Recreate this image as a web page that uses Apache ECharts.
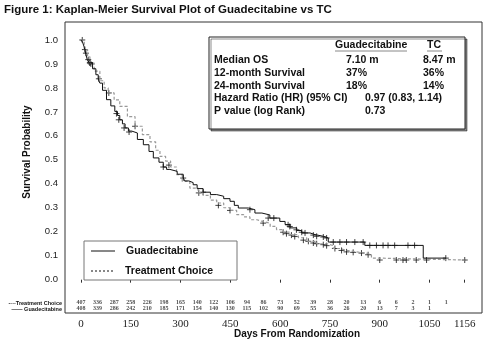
<!DOCTYPE html>
<html>
<head>
<meta charset="utf-8">
<script src="https://cdn.jsdelivr.net/npm/echarts@6/dist/echarts.min.js"></script>
<style>
  html, body { margin: 0; padding: 0; background: #fff; }
  #chart { width: 491px; height: 354px; }
</style>
</head>
<body>
<div id="chart"></div>
<script>
// KM curves: [day, survival probability]
const guadCurve = [
  [0, 1.0], [5, 0.99], [10, 0.97], [15, 0.94], [19, 0.918], [25, 0.905], [35, 0.88], [45, 0.855],
  [52, 0.837], [57, 0.82], [65, 0.79], [77, 0.751], [90, 0.725], [102, 0.702], [110, 0.685],
  [117, 0.667], [125, 0.65], [133, 0.633], [143, 0.62], [153, 0.612], [170, 0.585], [188, 0.563],
  [205, 0.535], [218, 0.508], [235, 0.49], [248, 0.47], [258, 0.46], [268, 0.452], [290, 0.44],
  [308, 0.424], [313, 0.412], [325, 0.405], [338, 0.396], [350, 0.38], [368, 0.365], [390, 0.355],
  [409, 0.348], [430, 0.338], [449, 0.327], [462, 0.31], [474, 0.299], [504, 0.292], [524, 0.278],
  [545, 0.27], [569, 0.257], [599, 0.243], [615, 0.23], [630, 0.216], [650, 0.205], [665, 0.195],
  [690, 0.188], [705, 0.181], [730, 0.174], [745, 0.157], [855, 0.143], [1031, 0.09], [1099, 0.09]
]
const tcCurve = [
  [0, 1.0], [10, 0.96], [20, 0.93], [27, 0.904], [40, 0.87], [57, 0.83], [70, 0.8], [82, 0.779],
  [100, 0.75], [117, 0.723], [140, 0.68], [163, 0.64], [185, 0.605], [208, 0.575], [225, 0.54],
  [238, 0.514], [255, 0.495], [270, 0.47], [288, 0.438], [305, 0.41], [328, 0.382], [353, 0.362],
  [368, 0.352], [390, 0.332], [409, 0.32], [430, 0.3], [449, 0.289], [469, 0.271], [490, 0.262],
  [509, 0.25], [530, 0.242], [549, 0.236], [570, 0.222], [589, 0.209], [610, 0.198], [630, 0.188],
  [655, 0.175], [680, 0.16], [710, 0.15], [740, 0.142], [760, 0.13], [780, 0.122], [800, 0.116],
  [830, 0.111], [860, 0.104], [875, 0.09], [901, 0.082], [1156, 0.082]
]
// censored observations (+)
const guadCensor = [
  [4, 1.0], [12, 0.96], [15, 0.945], [22, 0.918], [27, 0.905], [30, 0.9], [54, 0.838], [107, 0.693],
  [114, 0.667], [130, 0.633], [145, 0.616], [248, 0.47], [308, 0.424], [368, 0.365], [509, 0.292],
  [564, 0.257], [581, 0.257], [624, 0.229], [629, 0.222], [649, 0.208], [665, 0.198], [675, 0.195],
  [700, 0.186], [710, 0.181], [730, 0.178], [740, 0.174], [760, 0.157], [780, 0.157], [800, 0.157],
  [825, 0.157], [850, 0.157], [870, 0.143], [890, 0.143], [910, 0.143], [925, 0.143], [945, 0.143],
  [985, 0.143], [1005, 0.143], [1099, 0.09]
]
const tcCensor = [
  [27, 0.904], [84, 0.779], [163, 0.64], [265, 0.478], [355, 0.362], [414, 0.31], [449, 0.289],
  [549, 0.236], [609, 0.198], [619, 0.192], [634, 0.186], [644, 0.18], [670, 0.165], [685, 0.16],
  [700, 0.153], [710, 0.15], [730, 0.146], [740, 0.142], [765, 0.13], [785, 0.122], [800, 0.116],
  [820, 0.114], [845, 0.111], [865, 0.104], [900, 0.082], [950, 0.082], [970, 0.082], [980, 0.082],
  [1010, 0.082], [1041, 0.082], [1156, 0.082]
]
// numbers at risk
const riskDays = [0, 50, 100, 150, 200, 250, 300, 350, 400, 450, 500, 550, 600, 650, 700, 750, 800, 850, 900, 950, 1000, 1050, 1100]
const tcAtRisk = [407, 336, 287, 258, 226, 198, 165, 140, 122, 106, 94, 86, 73, 52, 39, 28, 20, 13, 6, 6, 2, 1, 1]
const guadAtRisk = [408, 339, 286, 242, 210, 185, 171, 154, 140, 130, 115, 102, 90, 69, 55, 36, 26, 20, 13, 7, 3, 1]
const xTicks = [0, 150, 300, 450, 600, 750, 900, 1050, 1156]
const yTicks = [0, 0.1, 0.2, 0.3, 0.4, 0.5, 0.6, 0.7, 0.8, 0.9, 1.0]

// summary table
const statRows = ['Median OS', '12-month Survival', '24-month Survival', 'Hazard Ratio (HR) (95% CI)', 'P value (log Rank)']
const guadStats = ['7.10 m', '37%', '18%', '0.97 (0.83, 1.14)', '0.73']
const tcStats = ['8.47 m', '36%', '14%', '', '']

const plus = 'path://M0,5L10,5M5,0L5,10'
const boldFont = '"Liberation Sans", Arial, sans-serif'

const chart = echarts.init(document.getElementById('chart'))

function txt(x, y, text, size, opts) {
  return {
    type: 'text',
    z: 100,
    style: Object.assign({
      x: x, y: y, text: text,
      font: 'bold ' + size + 'px ' + boldFont,
      fill: '#111',
      align: 'left',
      verticalAlign: 'middle'
    }, opts || {})
  }
}

const rowY = [60, 72.7, 85.7, 98.3, 111]
const yTitle = txt(0, 0, 'Survival Probability', 10, { align: 'center' })
yTitle.x = 27
yTitle.y = 152
yTitle.rotation = Math.PI / 2

const graphics = [
  txt(4, 10, 'Figure 1: Kaplan-Meier Survival Plot of Guadecitabine vs TC', 11.5),
  yTitle,
  txt(297, 334, 'Days From Randomization', 10, { align: 'center' }),
  // summary box
  {
    type: 'rect', z: 99,
    shape: { x: 209, y: 37, width: 256, height: 92 },
    style: { fill: '#fff', stroke: '#222', lineWidth: 1, shadowColor: 'rgba(0,0,0,0.45)', shadowOffsetX: 2, shadowOffsetY: 2 }
  },
  txt(335, 45.5, 'Guadecitabine', 10.5),
  txt(427, 45.5, 'TC', 10.5),
  { type: 'line', z: 100, shape: { x1: 335, y1: 51, x2: 407, y2: 51 }, style: { stroke: '#888', lineWidth: 1 } },
  { type: 'line', z: 100, shape: { x1: 427, y1: 51, x2: 442, y2: 51 }, style: { stroke: '#888', lineWidth: 1 } },
  // legend box
  {
    type: 'rect', z: 99,
    shape: { x: 84, y: 241, width: 153, height: 39 },
    style: { fill: '#fff', stroke: '#777', lineWidth: 1 }
  },
  { type: 'line', z: 100, shape: { x1: 91, y1: 251, x2: 115, y2: 251 }, style: { stroke: '#111', lineWidth: 1 } },
  { type: 'line', z: 100, shape: { x1: 91, y1: 271, x2: 115, y2: 271 }, style: { stroke: '#111', lineWidth: 1, lineDash: [2, 2] } },
  txt(126, 251, 'Guadecitabine', 10.5),
  txt(125, 271, 'Treatment Choice', 10.5),
  // number-at-risk row labels
  txt(62, 303, '----Treatment Choice', 5.5, { align: 'right' }),
  txt(62, 309, '\u2014\u2014 Guadecitabine', 5.5, { align: 'right' })
]
statRows.forEach(function (name, i) {
  graphics.push(txt(214, rowY[i], name, 10.5))
  const vx = i < 3 ? 346 : 365
  graphics.push(txt(vx, rowY[i], guadStats[i], 10.5))
  if (tcStats[i]) graphics.push(txt(423, rowY[i], tcStats[i], 10.5))
})

function riskSeries(days, counts, yRow) {
  return {
    type: 'scatter',
    symbolSize: 0,
    silent: true,
    data: counts.map(function (c, i) { return [days[i], yRow, c] }),
    label: {
      show: true,
      position: 'inside',
      formatter: function (p) { return p.value[2] },
      fontFamily: '"Liberation Serif", serif',
      fontWeight: 'bold',
      fontSize: 6,
      color: '#222'
    }
  }
}

const option = {
  animation: false,
  backgroundColor: '#fff',
  grid: {
    left: 65, right: 9, top: 22, bottom: 41,
    show: true, borderColor: '#333', borderWidth: 1
  },
  xAxis: {
    type: 'value',
    min: -48,
    max: 1208,
    axisLine: { show: false },
    axisTick: { show: true, customValues: xTicks, length: 3, lineStyle: { color: '#333' } },
    axisLabel: {
      customValues: xTicks,
      formatter: function (v) { return String(v) },
      margin: 6,
      fontFamily: '"Liberation Serif", serif',
      fontSize: 11,
      color: '#222'
    },
    splitLine: { show: false }
  },
  yAxis: {
    type: 'value',
    min: -0.139,
    max: 1.075,
    axisLine: { show: false },
    axisTick: { show: false },
    axisLabel: {
      customValues: yTicks,
      formatter: function (v) { return v.toFixed(1) },
      margin: 7,
      fontFamily: '"Liberation Sans", sans-serif',
      fontSize: 9.5,
      color: '#222'
    },
    splitLine: { show: false }
  },
  graphic: graphics,
  series: [
    {
      name: 'Treatment Choice',
      type: 'line',
      step: 'end',
      symbol: 'none',
      data: tcCurve,
      lineStyle: { color: '#999', width: 1.2, type: [3, 2] }
    },
    {
      name: 'Guadecitabine',
      type: 'line',
      step: 'end',
      symbol: 'none',
      data: guadCurve,
      lineStyle: { color: '#111', width: 1 }
    },
    {
      type: 'scatter',
      symbol: plus,
      symbolSize: 6,
      data: tcCensor,
      itemStyle: { color: 'rgba(0,0,0,0)', borderColor: '#111', borderWidth: 1 }
    },
    {
      type: 'scatter',
      symbol: plus,
      symbolSize: 6,
      data: guadCensor,
      itemStyle: { color: 'rgba(0,0,0,0)', borderColor: '#111', borderWidth: 1 }
    },
    riskSeries(riskDays, tcAtRisk, -0.096),
    riskSeries(riskDays, guadAtRisk, -0.121)
  ]
}
chart.setOption(option)
</script>
</body>
</html>
